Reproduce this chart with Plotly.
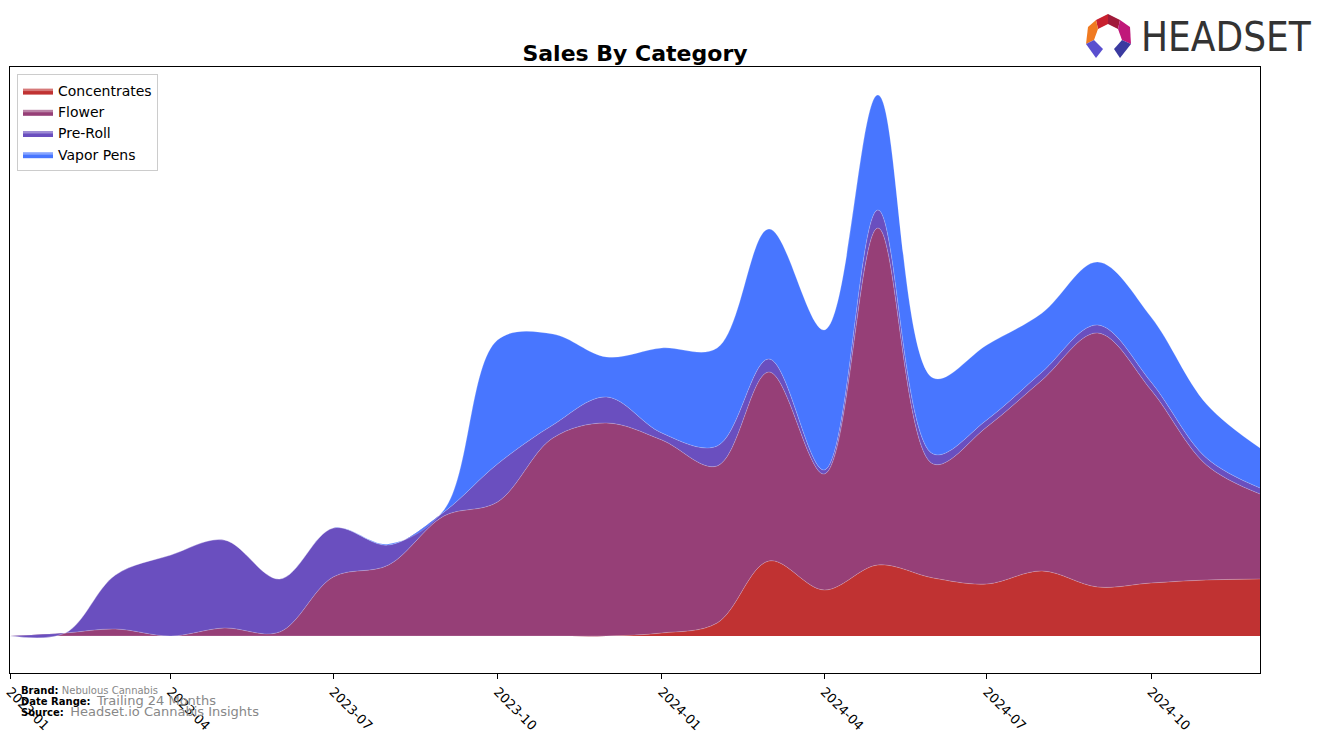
import plotly.graph_objects as go

months = ["2023-01-01","2023-02-01","2023-03-01","2023-04-01","2023-05-01","2023-06-01",
          "2023-07-01","2023-08-01","2023-09-01","2023-10-01","2023-11-01","2023-12-01",
          "2024-01-01","2024-02-01","2024-03-01","2024-04-01","2024-05-01","2024-06-01",
          "2024-07-01","2024-08-01","2024-09-01","2024-10-01","2024-11-01","2024-12-01"]

concentrates = [0,0,0,0,0,0, 0,0,0,0,0,0, 3,13,75,46,71,58, 52,65,49,53,56,57]
flower       = [0,3,7,0,8,4, 59,71,120,134,198,213, 193,157,189,116,337,114, 157,191,254,193,115,85]
pre_roll     = [0,0,54,81,88,53, 49,20,4,38,13,26, 7,20,13,4,18,10, 7,8,8,8,7,6]
vapor_pens   = [0,0,0,0,0,0, 0,1,2,124,91,40, 85,98,130,140,115,76, 75,59,63,65,54,40]

series = [("Concentrates", concentrates, "#C03232"),
          ("Flower", flower, "#963F77"),
          ("Pre-Roll", pre_roll, "#6A4FBF"),
          ("Vapor Pens", vapor_pens, "#4876FF")]

fig = go.Figure()
for name, vals, col in series:
    fig.add_trace(go.Scatter(
        x=months, y=vals, name=name, stackgroup="one",
        mode="lines", line=dict(shape="spline", smoothing=1.0, width=0.6,
                                color="rgba(255,255,255,0.35)"),
        fillcolor=col))

# layout geometry helpers (pixel -> paper)
L, R, T, B = 10, 1260, 67, 673
def px(x): return (x - L) / (R - L)
def py(y): return (B - y) / (B - T)

shapes = []
def poly(points, color):
    path = "M " + " L ".join(f"{px(a):.5f},{py(b):.5f}" for a, b in points) + " Z"
    shapes.append(dict(type="path", path=path, xref="paper", yref="paper",
                       fillcolor=color, line=dict(width=0), layer="above"))

# Headset logo icon (approximation)
poly([(1096,20),(1108,14),(1108,24),(1098,29)], "#C8202F")
poly([(1108,14),(1120,20),(1118,29),(1108,24)], "#A01A3A")
poly([(1120,20),(1130,27),(1131,44),(1122,40),(1118,29)], "#C0187A")
poly([(1096,20),(1098,29),(1094,40),(1086,44),(1088,27)], "#F07A20")
poly([(1086,44),(1094,40),(1103,49),(1096,58)], "#5A4FCF")
poly([(1131,44),(1122,40),(1114,49),(1120,58)], "#3A3AA0")

fig.update_layout(
    width=1324, height=743,
    margin=dict(l=L, r=1324 - R, t=T, b=743 - B, autoexpand=False),
    paper_bgcolor="white", plot_bgcolor="white",
    font=dict(family="DejaVu Sans", color="black", size=13),
    title=dict(text="<b>Sales By Category</b>", xref="container", x=635 / 1324,
               xanchor="center", yref="container", y=1 - 53 / 743, yanchor="middle",
               font=dict(size=22, color="black")),
    showlegend=True,
    legend=dict(x=px(17), y=py(74), xanchor="left", yanchor="top",
                bgcolor="rgba(255,255,255,0.8)", bordercolor="#CCCCCC", borderwidth=1,
                font=dict(size=14), traceorder="normal", itemsizing="constant",
                tracegroupgap=0),
    xaxis=dict(range=["2023-01-01", "2024-12-01"], dtick="M3", tick0="2023-01-01",
               tickformat="%Y-%m", tickangle=45, ticks="outside", ticklen=5,
               tickcolor="black", showgrid=False, zeroline=False, automargin=False,
               showline=True, linecolor="black", linewidth=1, mirror=True,
               tickfont=dict(size=13, color="black")),
    yaxis=dict(range=[-37, 569], showticklabels=False, ticks="", showgrid=False,
               zeroline=False, showline=True, linecolor="black", linewidth=1, mirror=True,
               automargin=False),
    shapes=shapes,
    annotations=[
        dict(text="HEADSET", xref="paper", yref="paper", x=px(1139), y=py(37),
             xanchor="left", yanchor="middle", showarrow=False,
             font=dict(family="Liberation Sans Narrow, DejaVu Sans Condensed, Roboto, sans-serif",
                       size=40, color="#333333")),
        dict(text="<b>Brand:</b> <span style='color:#888888'>Nebulous Cannabis</span>",
             xref="paper", yref="paper", x=px(19), y=py(690), xanchor="left", yanchor="middle",
             showarrow=False, font=dict(size=10, color="black")),
        dict(text="<b>Date Range:</b>  <span style='color:#888888;font-size:13px'>Trailing 24 Months</span>",
             xref="paper", yref="paper", x=px(19), y=py(701), xanchor="left", yanchor="middle",
             showarrow=False, font=dict(size=10, color="black")),
        dict(text="<b>Source:</b>  <span style='color:#888888;font-size:13px'>Headset.io Cannabis Insights</span>",
             xref="paper", yref="paper", x=px(19), y=py(711), xanchor="left", yanchor="middle",
             showarrow=False, font=dict(size=10, color="black")),
    ],
)

fig.write_html("out.html")
